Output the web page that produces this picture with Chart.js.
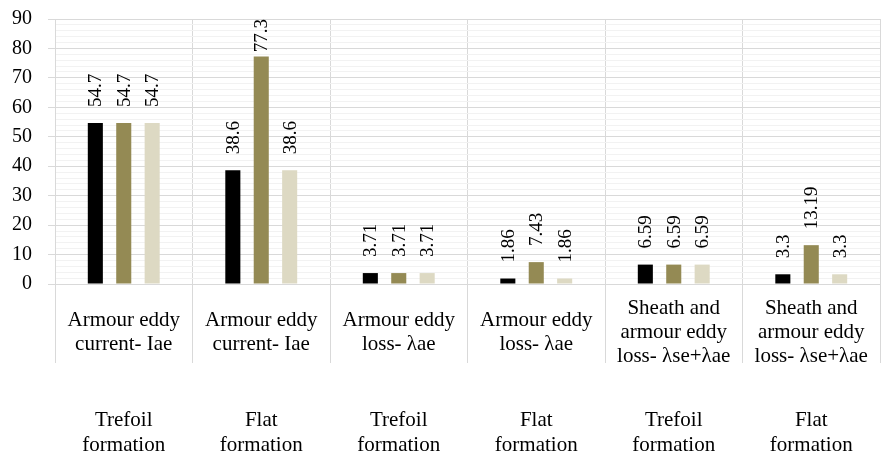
<!DOCTYPE html>
<html>
<head>
<meta charset="utf-8">
<script src="https://cdn.jsdelivr.net/npm/chart.js@4"></script>
<style>
    body { margin: 0; background: #fff; }
    #wrap { width: 883px; height: 456px; }
</style>
</head>
<body>
<div id="wrap"><canvas id="myChart"></canvas></div>
<script>
const categories = [
    ['Armour eddy', 'current- Iae'],
    ['Armour eddy', 'current- Iae'],
    ['Armour eddy', 'loss- λae'],
    ['Armour eddy', 'loss- λae'],
    ['Sheath and', 'armour eddy', 'loss- λse+λae'],
    ['Sheath and', 'armour eddy', 'loss- λse+λae']
];
const formations = [
    ['Trefoil', 'formation'],
    ['Flat', 'formation'],
    ['Trefoil', 'formation'],
    ['Flat', 'formation'],
    ['Trefoil', 'formation'],
    ['Flat', 'formation']
];
const series1 = [54.7, 38.6, 3.71, 1.86, 6.59, 3.3];
const series2 = [54.7, 77.3, 3.71, 7.43, 6.59, 13.19];
const series3 = [54.7, 38.6, 3.71, 1.86, 6.59, 3.3];

const serif = "'Liberation Serif', 'Times New Roman', serif";

// value labels, rotated, above each bar
const barValues = {
    id: 'barValues',
    afterDatasetsDraw(chart) {
        const c = chart.ctx;
        const top = chart.chartArea.top;
        c.save();
        c.font = '19px ' + serif;
        c.fillStyle = '#000';
        c.textAlign = 'left';
        c.textBaseline = 'middle';
        chart.data.datasets.forEach((ds, i) => {
            chart.getDatasetMeta(i).data.forEach((bar, j) => {
                const txt = String(ds.data[j]);
                const w = c.measureText(txt).width;
                let y = bar.y - 16;
                if (y - w < top) y = top + w;
                c.save();
                c.translate(bar.x, y);
                c.rotate(-Math.PI / 2);
                c.fillText(txt, 0, 1);
                c.restore();
            });
        });
        c.restore();
    }
};

new Chart(document.getElementById('myChart'), {
    type: 'bar',
    data: {
        labels: categories,
        datasets: [{
            label: 'Series 1',
            data: series1,
            backgroundColor: '#000000'
        }, {
            label: 'Series 2',
            data: series2,
            backgroundColor: '#948A54'
        }, {
            label: 'Series 3',
            data: series3,
            backgroundColor: '#DDD9C3'
        }]
    },
    options: {
        responsive: true,
        maintainAspectRatio: false,
        animation: false,
        categoryPercentage: 0.62,
        barPercentage: 0.53,
        layout: {
            padding: { top: 19, right: 3, left: 0, bottom: 0 }
        },
        scales: {
            x: {
                weight: 0,
                offset: true,
                grid: {
                    offset: true,
                    color: '#d9d9d9',
                    tickColor: '#d9d9d9',
                    tickLength: 79,
                    lineWidth: 1
                },
                border: { color: '#d9d9d9' },
                ticks: {
                    autoSkip: false,
                    maxRotation: 0,
                    minRotation: 0,
                    crossAlign: 'center',
                    padding: -55,
                    color: '#000',
                    font: { family: serif, size: 21, lineHeight: 1.15 }
                },
                afterFit(scale) {
                    scale.height = 79;
                    scale.paddingLeft = 0;
                    scale.paddingRight = 0;
                }
            },
            x2: {
                type: 'category',
                labels: formations,
                position: 'bottom',
                weight: 1,
                offset: true,
                grid: { display: false, drawTicks: false },
                border: { display: false },
                ticks: {
                    autoSkip: false,
                    maxRotation: 0,
                    minRotation: 0,
                    padding: 45,
                    color: '#000',
                    font: { family: serif, size: 21, lineHeight: 1.2 }
                },
                afterFit(scale) {
                    scale.height = 93;
                    scale.paddingLeft = 0;
                    scale.paddingRight = 0;
                }
            },
            y: {
                min: 0,
                max: 90,
                grid: {
                    color: (ctx) => ctx.tick && ctx.tick.value % 10 === 0 ? '#d9d9d9' : '#f2f2f2',
                    tickColor: (ctx) => ctx.tick && ctx.tick.value % 10 === 0 ? '#d9d9d9' : 'rgba(0,0,0,0)',
                    tickLength: 7
                },
                border: { color: '#d9d9d9' },
                ticks: {
                    stepSize: 2,
                    autoSkip: false,
                    padding: 16,
                    color: '#000',
                    font: { family: serif, size: 20 },
                    callback: (v) => v % 10 === 0 ? v : ''
                },
                afterFit(scale) {
                    scale.width = 55;
                    scale.paddingTop = 0;
                    scale.paddingBottom = 0;
                }
            }
        },
        plugins: {
            legend: { display: false },
            tooltip: { enabled: false }
        }
    },
    plugins: [barValues]
});
</script>
</body>
</html>
